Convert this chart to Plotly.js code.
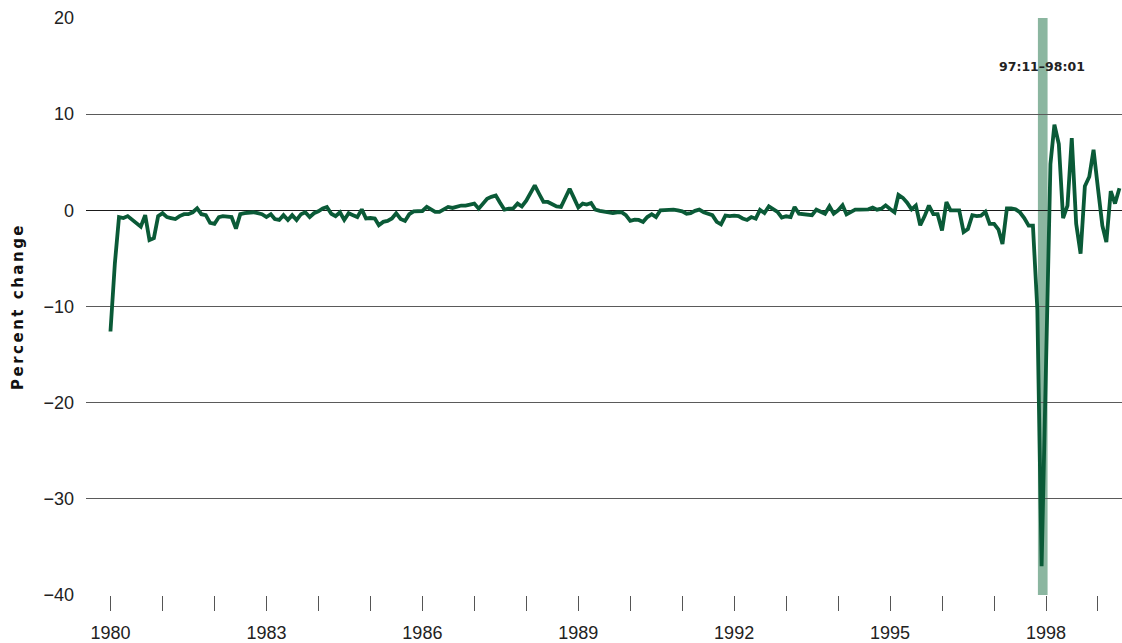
<!DOCTYPE html>
<html>
<head>
<meta charset="utf-8">
<script src="https://cdn.plot.ly/plotly-3.0.1.min.js"></script>
<style>
  html, body { margin: 0; padding: 0; background: #fff; }
  #chart { width: 1122px; height: 643px; }
</style>
</head>
<body>
<div id="chart"></div>
<script>
(function () {
  // ---------- Data (monthly percent change, Jan 1980 - Jun 1999) ----------
  const startYear = 1980;
  const pctChange = [
    -12.6, -5.5, -0.7, -0.8, -0.6, -1.0, -1.3, -1.7, -0.5, -3.1, -2.9, -0.6,   // 1980
    -0.3, -0.7, -0.8, -0.9, -0.6, -0.4, -0.4, -0.2, 0.2, -0.4, -0.5, -1.3,     // 1981
    -1.4, -0.7, -0.6, -0.7, -0.7, -1.9, -0.4, -0.3, -0.2, -0.2, -0.3, -0.4,    // 1982
    -0.7, -0.4, -0.9, -1.0, -0.5, -1.0, -0.5, -1.0, -0.4, -0.2, -0.7, -0.3,    // 1983
    -0.1, 0.2, 0.35, -0.35, -0.6, -0.2, -1.0, -0.3, -0.5, -0.7, 0.1, -0.85,    // 1984
    -0.8, -0.85, -1.55, -1.2, -1.1, -0.85, -0.3, -0.9, -1.1, -0.4, -0.1, -0.07, // 1985
    -0.07, 0.35, 0.07, -0.17, -0.17, 0.1, 0.35, 0.25, 0.4, 0.5, 0.5, 0.55,     // 1986
    0.7, 0.17, 0.6, 1.2, 1.4, 1.55, 0.8, 0.07, 0.17, 0.2, 0.7, 0.4,            // 1987
    1.0, 1.8, 2.6, 1.7, 0.87, 0.87, 0.6, 0.4, 0.35, 1.4, 2.25, 1.3,            // 1988
    0.3, 0.7, 0.6, 0.76, 0.07, -0.05, -0.1, -0.17, -0.28, -0.2, -0.2, -0.5,    // 1989
    -1.1, -0.97, -1.0, -1.2, -0.7, -0.4, -0.7, 0, 0.05, 0.07, 0.07, 0.0,       // 1990
    -0.1, -0.35, -0.3, -0.05, 0.07, -0.2, -0.4, -0.5, -1.2, -1.45, -0.55, -0.6, // 1991
    -0.55, -0.6, -0.85, -1.0, -0.7, -0.87, 0.05, -0.28, 0.42, 0.17, -0.17, -0.76, // 1992
    -0.62, -0.7, 0.35, -0.35, -0.42, -0.45, -0.5, 0.07, -0.2, -0.35, 0.42, -0.35, // 1993
    0, 0.52, -0.42, -0.17, 0.07, 0.07, 0.1, 0.1, 0.28, 0.07, 0.17, 0.52,       // 1994
    0.15, -0.2, 1.6, 1.3, 0.8, 0.1, 0.5, -1.55, -0.6, 0.5, -0.4, -0.4,         // 1995
    -2.1, 0.85, 0, 0.05, 0, -2.25, -1.95, -0.5, -0.6, -0.55, -0.15, -1.4,      // 1996
    -1.4, -2.0, -3.5, 0.2, 0.2, 0.1, -0.2, -0.8, -1.6, -1.6, -10.3, -37.0,     // 1997
    -16.0, 4.8, 8.9, 6.9, -0.8, 0.5, 7.5, -1.4, -4.5, 2.5, 3.5, 6.3,           // 1998
    2.3, -1.6, -3.3, 2.0, 0.7, 2.3                                             // 1999
  ];

  const tickYears = [1980, 1981, 1982, 1983, 1984, 1985, 1986, 1987, 1988, 1989,
                     1990, 1991, 1992, 1993, 1994, 1995, 1996, 1997, 1998, 1999];
  const labelYears = [1980, 1983, 1986, 1989, 1992, 1995, 1998];

  // shaded period 97:11–98:01
  const shadeLabel = '97:11–98:01';
  const shadeStart = '1997-11-05';
  const shadeEnd = '1998-01-12';

  const yTitle = 'Percent change';

  // ---------- Build ----------
  const dates = pctChange.map((_, i) => {
    const y = startYear + Math.floor(i / 12);
    const m = (i % 12) + 1;
    return `${y}-${String(m).padStart(2, '0')}-01`;
  });

  // spread the letters of the rotated title a little (six-per-em spaces)
  const spaced = Array.from(yTitle).join('\u2006');

  const trace = {
    x: dates,
    y: pctChange,
    type: 'scatter',
    mode: 'lines',
    line: { color: '#0a5a37', width: 3.8 },
    hoverinfo: 'skip',
    showlegend: false
  };

  const tickFont = { family: 'Liberation Sans, Arial, sans-serif', size: 18, color: '#222' };

  const layout = {
    width: 1122,
    height: 643,
    margin: { l: 86, r: 0, t: 18, b: 48 },
    paper_bgcolor: '#fff',
    plot_bgcolor: '#fff',
    showlegend: false,
    xaxis: {
      type: 'date',
      range: ['1979-07-13', '1999-06-19'],
      tickvals: tickYears.map(y => `${y}-01-01`),
      ticktext: tickYears.map(y => labelYears.includes(y) ? String(y) : ''),
      ticks: 'outside',
      ticklen: 15,
      tickwidth: 1,
      tickcolor: '#555',
      ticklabelstandoff: 6,
      showline: false,
      showgrid: false,
      zeroline: false,
      tickfont: tickFont,
      fixedrange: true
    },
    yaxis: {
      range: [-40, 20],
      tickvals: [-40, -30, -20, -10, 0, 10, 20],
      ticks: '',
      showgrid: true,
      gridcolor: '#5a5a5a',
      gridwidth: 1,
      zeroline: true,
      zerolinecolor: '#1a1a1a',
      zerolinewidth: 1.3,
      showline: false,
      tickfont: tickFont,
      ticklabelstandoff: 11,
      fixedrange: true
    },
    shapes: [{
      type: 'rect',
      xref: 'x',
      yref: 'paper',
      x0: shadeStart,
      x1: shadeEnd,
      y0: 0,
      y1: 1,
      fillcolor: '#8bb6a0',
      line: { width: 0 },
      layer: 'below'
    }],
    annotations: [
      {
        text: '<b>' + shadeLabel + '</b>',
        xref: 'paper', yref: 'paper',
        x: (1042 - 86) / 1036, y: (595 - 67) / 577,
        xanchor: 'center', yanchor: 'middle',
        showarrow: false,
        font: { family: 'DejaVu Sans, sans-serif', size: 12.5, color: '#222' }
      },
      {
        text: '<b>' + spaced + '</b>',
        xref: 'paper', yref: 'paper',
        x: (18 - 86) / 1036, y: (595 - 308) / 577,
        xanchor: 'center', yanchor: 'middle',
        textangle: -90,
        showarrow: false,
        font: { family: 'DejaVu Sans, sans-serif', size: 15, color: '#111' }
      }
    ]
  };

  Plotly.newPlot('chart', [trace], layout, { displayModeBar: false, staticPlot: true });
})();
</script>
</body>
</html>
